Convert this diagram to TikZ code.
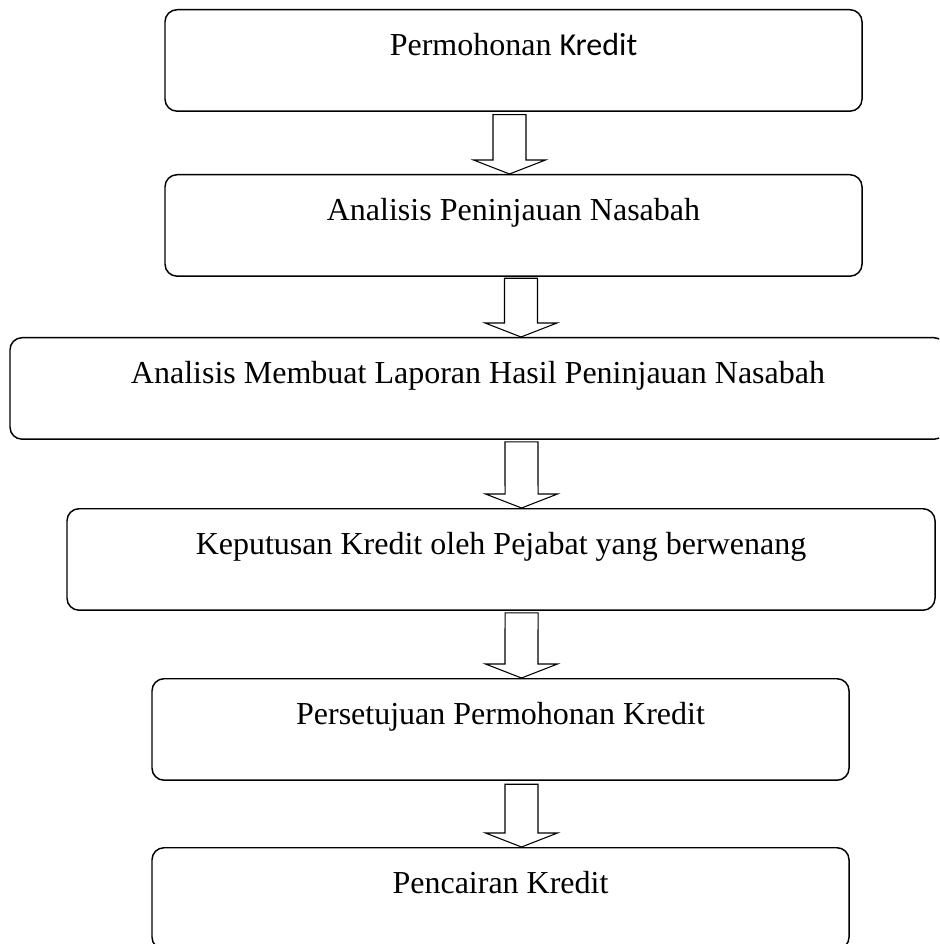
\documentclass[tikz,border=0pt]{standalone}
\usepackage{fontspec}
\setmainfont{Liberation Serif}
\newfontfamily\calibrifont{Carlito}
\usetikzlibrary{calc}
\tikzset{
  stepbox/.style={draw, line width=1.1pt, rounded corners=9pt, anchor=north,
    minimum height=76.1pt, inner ysep=0pt, text height=34.5pt, text depth=41.6pt,
    font=\fontsize{24pt}{28pt}\selectfont},
  flowarrow/.style={draw, line width=0.8pt,
    to path={($(\tikztostart)+(-16.5,0)$) -- ($(\tikztotarget)+(-16.5,-14)$)
      -- ($(\tikztotarget)+(-36,-14)$) -- (\tikztotarget)
      -- ($(\tikztotarget)+(36,-14)$) -- ($(\tikztotarget)+(16.5,-14)$)
      -- ($(\tikztostart)+(16.5,0)$) -- cycle}}
}
\begin{document}
\begin{tikzpicture}[x=0.75pt, y=-0.75pt]
      \useasboundingbox (0,0) rectangle (939,944);
      \clip (0,0) rectangle (939,944);
      \node[stepbox, minimum width=522.75pt] (1) at (513.5,9) {Permohonan \calibrifont Kredit};
      \node[stepbox, minimum width=522.75pt] (2) at (513.5,174) {Analisis Peninjauan Nasabah};
      \node[stepbox, minimum width=702pt] (3) at (478,337) {Analisis Membuat Laporan Hasil Peninjauan Nasabah};
      \node[stepbox, minimum width=651pt] (4) at (501,508) {Keputusan Kredit oleh Pejabat yang berwenang};
      \node[stepbox, minimum width=522.75pt] (5) at (500.5,678) {Persetujuan Permohonan Kredit};
      \node[stepbox, minimum width=522.75pt] (6) at (500.5,847) {Pencairan Kredit};
      \begin{scope}[flowarrow]
        \draw ([xshift=-3pt, yshift=-2pt]1.south) to ([xshift=-3pt]2.north);
        \draw ([xshift=5.6pt, yshift=-1pt]2.south) to ([xshift=32.25pt]3.north);
        \draw ([xshift=32.6pt, yshift=-1.5pt]3.south) to ([xshift=15.4pt]4.north);
        \draw ([xshift=15.4pt, yshift=-1.5pt]4.south) to ([xshift=15.75pt]5.north);
        \draw ([xshift=15.75pt, yshift=-2.5pt]5.south) to ([xshift=15.75pt]6.north);
      \end{scope}
    \end{tikzpicture}
\end{document}
